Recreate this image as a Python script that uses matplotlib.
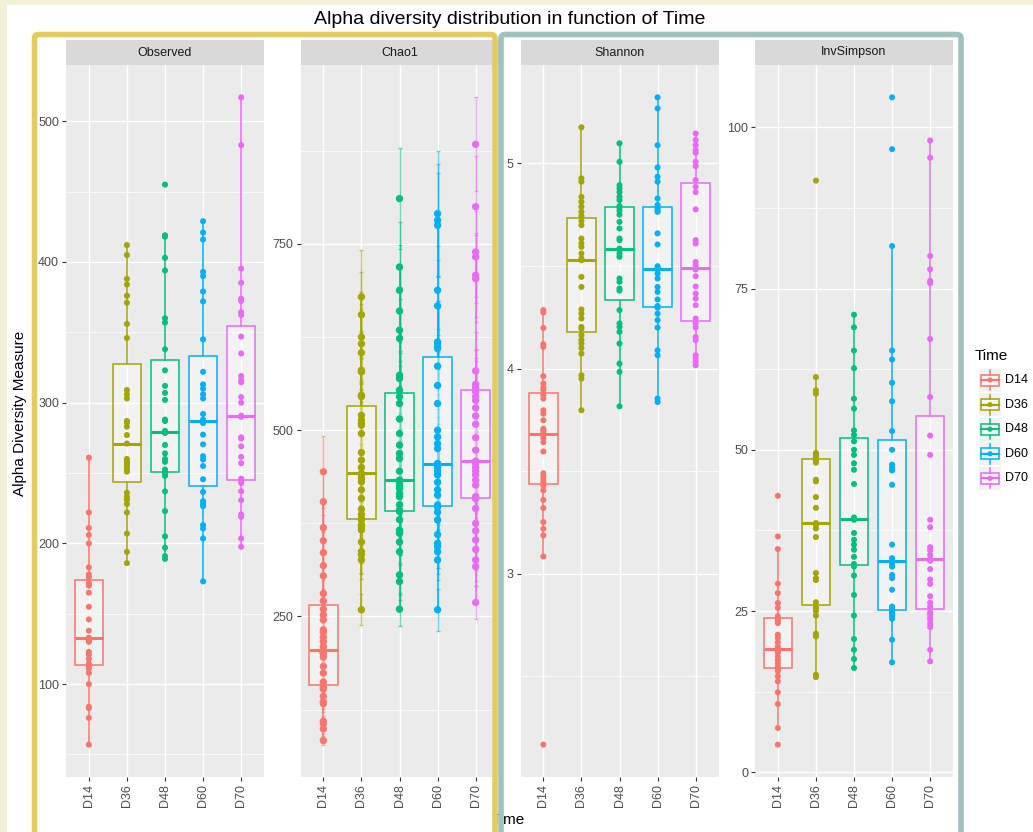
import matplotlib
matplotlib.use("Agg")
import matplotlib.pyplot as plt
import numpy as np
from matplotlib.patches import Rectangle, FancyBboxPatch, Circle
from matplotlib.ticker import MultipleLocator, AutoMinorLocator

plt.rcParams['font.family'] = ['Liberation Sans', 'DejaVu Sans']

W, H = 1033, 832

times = ["D14", "D36", "D48", "D60", "D70"]
colors = ["#F8766D", "#A3A500", "#00BF7D", "#00B0F6", "#E76BF3"]

# Observed richness per sample
observed_d14 = [57, 76, 83, 84, 100, 108, 111, 112.5, 114.7, 118, 121, 123, 130, 131, 132, 133,
                138, 146, 155, 165, 170, 171, 172, 176, 178, 183, 200, 206, 211, 222, 261]
observed_d36 = [186, 194, 207, 222, 228, 231, 233, 236, 251, 252, 254, 256, 257, 259, 260, 271,
                277, 283, 286, 287, 303, 306, 309, 346, 356, 371, 376, 384, 388, 405, 412]
observed_d48 = [189, 191, 197, 205, 223, 237, 248, 250, 251, 252.5, 258, 260, 264, 270, 278.5, 279,
                280, 287, 288, 302, 307, 312, 323, 338, 357, 360, 394, 403, 418, 419, 455]
observed_d60 = [173, 203.5, 210.6, 213, 226.5, 228, 230, 236.6, 245.6, 255, 259.6, 262, 270.4, 277.3,
                285.5, 287, 288, 292, 303, 306, 310, 313, 322, 345, 372, 379, 390, 393, 416, 421, 429]
observed_d70 = [197.6, 203.5, 218.9, 220.6, 230.7, 237.1, 243, 244.4, 246, 257, 261.5, 269, 274.5,
                275.4, 290, 290.8, 300, 304, 314.5, 316, 319, 335, 347, 362.3, 364.3, 372.3, 373.9,
                385.2, 395.3, 483, 517]

# Chao1 estimates and their standard errors
chao1_d14 = [83.5, 99.1, 106.3, 109.4, 133, 136, 142.9, 152.7, 155, 162, 174, 183, 195.5, 200, 201,
             202, 203, 204.5, 209.8, 216.5, 222.3, 228.6, 232, 245.5, 252.2, 259.8, 271, 280.8,
             304.5, 318.3, 335.7, 351.8, 369.2, 404, 444.2]
chao1_d36 = [259, 326, 333, 337, 350, 366, 370, 373, 379.5, 381.3, 387, 394, 408.5, 420, 430.8, 435,
             440, 442, 450, 459.8, 470, 495.5, 506.7, 509, 513.4, 520, 545, 547, 578.3, 580.5, 604,
             616, 625, 655, 679]
chao1_d48 = [259.8, 296.9, 305.8, 337, 350, 361.6, 366, 380, 391, 393, 400, 410.7, 415, 421.9, 425,
             430, 432, 433, 445, 462, 468.8, 480, 495.5, 515, 535.8, 545, 553.7, 569.3, 573.8, 623,
             634.2, 660, 687.8, 719.1, 810.8]
chao1_d60 = [259, 325.9, 337, 343.8, 348.2, 360, 379.5, 390, 397, 399.6, 412.9, 420, 430, 440, 445,
             450, 452, 454, 455.4, 475.4, 482, 491, 500, 535.8, 560, 585.9, 609.6, 611.8, 616.3,
             618.5, 666.8, 687.8, 775, 781.8, 790.7]
chao1_d70 = [268.8, 317, 325.9, 340, 352.7, 365, 375, 395, 408, 411, 426.3, 433, 440, 445, 450, 455,
             457.6, 458.5, 473.2, 490, 508, 519.2, 530, 540, 545, 551.4, 557.2, 561.7, 579.6, 703.5,
             708, 732.6, 739.3, 800, 883.7]
chao1_se_d14 = [5.5, 7, 8, 7.5, 11, 10, 12, 13, 11, 14, 15, 16, 14, 18, 17, 15, 19, 20, 18, 21, 19,
                24, 22, 23, 26, 25, 28, 27, 30, 32, 29, 35, 33, 40, 48]
chao1_se_d36 = [21, 26, 24, 30, 28, 33, 29, 31, 35, 30, 36, 34, 38, 33, 40, 37, 42, 39, 44, 41, 46,
                43, 48, 45, 50, 47, 52, 49, 55, 51, 58, 54, 60, 57, 63]
chao1_se_d48 = [22, 25, 27, 29, 31, 28, 33, 30, 35, 32, 36, 34, 38, 35, 39, 37, 41, 38, 42, 40, 45,
                43, 47, 44, 50, 48, 52, 49, 55, 53, 58, 56, 61, 60, 68]
chao1_se_d60 = [28, 27, 30, 29, 33, 31, 35, 32, 36, 34, 38, 35, 40, 37, 42, 39, 43, 40, 45, 42, 47,
                44, 49, 46, 52, 50, 55, 53, 57, 55, 62, 60, 70, 75, 84]
chao1_se_d70 = [22, 26, 28, 27, 30, 29, 33, 31, 35, 33, 37, 34, 38, 36, 40, 37, 41, 39, 43, 41, 45,
                43, 47, 44, 48, 46, 50, 47, 52, 58, 56, 62, 60, 68, 63]

# Shannon index
shannon_d14 = [2.167, 3.084, 3.187, 3.219, 3.252, 3.320, 3.360, 3.406, 3.43, 3.444, 3.458, 3.474,
               3.490, 3.596, 3.641, 3.661, 3.675, 3.681, 3.691, 3.701, 3.707, 3.748, 3.780, 3.797,
               3.854, 3.870, 3.896, 3.907, 3.927, 3.963, 4.106, 4.119, 4.198, 4.273, 4.285]
shannon_d36 = [3.797, 3.951, 3.967, 4.073, 4.10, 4.122, 4.14, 4.163, 4.195, 4.203, 4.244, 4.268,
               4.288, 4.398, 4.447, 4.528, 4.537, 4.561, 4.593, 4.610, 4.634, 4.699, 4.72, 4.744,
               4.764, 4.789, 4.813, 4.837, 4.911, 4.927, 5.176]
shannon_d48 = [3.816, 3.984, 4.024, 4.122, 4.179, 4.203, 4.220, 4.285, 4.38, 4.390, 4.423, 4.439,
               4.545, 4.560, 4.577, 4.585, 4.626, 4.634, 4.683, 4.715, 4.75, 4.77, 4.785, 4.792,
               4.821, 4.837, 4.86, 4.878, 4.894, 5.008, 5.098]
shannon_d60 = [3.837, 3.854, 4.065, 4.089, 4.20, 4.236, 4.268, 4.297, 4.305, 4.337, 4.374, 4.398,
               4.439, 4.463, 4.483, 4.485, 4.490, 4.499, 4.605, 4.659, 4.764, 4.772, 4.78, 4.797,
               4.829, 4.911, 4.935, 4.980, 5.089, 5.268, 5.322]
shannon_d70 = [4.016, 4.033, 4.049, 4.065, 4.138, 4.154, 4.20, 4.220, 4.244, 4.309, 4.341, 4.366,
               4.40, 4.45, 4.483, 4.491, 4.504, 4.520, 4.610, 4.626, 4.776, 4.86, 4.886, 4.919,
               4.987, 5.008, 5.052, 5.065, 5.089, 5.114, 5.146]

# Inverse Simpson index
invsimpson_d14 = [4.29, 6.87, 10.59, 12.4, 14.1, 14.88, 15.65, 16.0, 16.3, 16.84, 17.4, 17.87, 18.49,
                  18.8, 19.0, 19.11, 19.5, 20.15, 20.82, 21.33, 23.14, 23.4, 23.6, 24.2, 25.5, 26.24,
                  27.79, 29.24, 34.6, 36.57, 42.87]
invsimpson_d36 = [14.77, 15.13, 21.07, 21.5, 24.3, 25.0, 25.46, 25.6, 26.36, 29.8, 30.1, 30.9, 36.47,
                  37.8, 38.3, 38.64, 41, 42.67, 45.1, 45.35, 48.0, 48.2, 48.45, 48.7, 49.07, 49.3,
                  49.5, 58.7, 59.2, 61.27, 91.72]
invsimpson_d48 = [16.17, 17.56, 19.0, 20.66, 24.3, 27.5, 30.5, 31.9, 32.3, 33.4, 34.5, 35.3, 36.05,
                  37.1, 39.15, 39.3, 39.5, 44.7, 46.9, 47.9, 49.2, 50, 51.3, 52.3, 53.0, 56.38, 57.92,
                  62.65, 65.38, 68.98, 70.94]
invsimpson_d60 = [17.05, 20.56, 23.8, 24.2, 24.5, 24.7, 25.0, 25.1, 25.3, 25.7, 28.3, 30.1, 30.6,
                  31.9, 32.3, 32.7, 33.2, 35.3, 44.58, 46.8, 47.2, 47.7, 50, 52.9, 57.51, 60.39,
                  63.99, 65.38, 81.58, 96.6, 104.63]
invsimpson_d70 = [17.2, 19.0, 22.5, 23.0, 23.6, 24.0, 24.5, 24.8, 25.7, 26.3, 27.3, 29.2, 29.9, 31.5,
                  32.8, 33.06, 33.7, 34.4, 34.9, 38.0, 39.15, 49.2, 52.2, 58.18, 67.18, 75.82, 76.18,
                  77.98, 80.04, 95.27, 97.94]

measures = ["Observed", "Chao1", "Shannon", "InvSimpson"]
measure_data = [
    [observed_d14, observed_d36, observed_d48, observed_d60, observed_d70],
    [chao1_d14, chao1_d36, chao1_d48, chao1_d60, chao1_d70],
    [shannon_d14, shannon_d36, shannon_d48, shannon_d60, shannon_d70],
    [invsimpson_d14, invsimpson_d36, invsimpson_d48, invsimpson_d60, invsimpson_d70],
]
chao1_se = [chao1_se_d14, chao1_se_d36, chao1_se_d48, chao1_se_d60, chao1_se_d70]
major_steps = [100, 250, 1, 25]

fig = plt.figure(figsize=(W / 100, H / 100), dpi=100)
fig.patch.set_facecolor("white")


def px_rect(x, y, w, h):
    return [x / W, 1 - (y + h) / H, w / W, h / H]


PANEL_TOP, PANEL_H, PANEL_W = 65, 712, 198
panel_lefts = [66, 300.5, 520.5, 755]

for k, (name, groups) in enumerate(zip(measures, measure_data)):
    left = panel_lefts[k]
    ax = fig.add_axes(px_rect(left, PANEL_TOP, PANEL_W, PANEL_H))
    ax.set_facecolor("#ebebeb")
    for sp in ax.spines.values():
        sp.set_visible(False)
    pos = np.arange(1, len(times) + 1)
    se = chao1_se if name == "Chao1" else None
    lows, highs = [], []
    for i, vals in enumerate(groups):
        v = np.asarray(vals, float)
        if se is not None:
            s = np.asarray(se[i], float)
            ax.errorbar(np.full(len(v), pos[i]), v, yerr=s, fmt="none", ecolor=colors[i],
                        elinewidth=1.0, capsize=1.4, capthick=1.0, alpha=0.55, zorder=2)
            lows.append((v - s).min())
            highs.append((v + s).max())
        else:
            lows.append(v.min())
            highs.append(v.max())
    bp = ax.boxplot(groups, positions=pos, widths=0.75, patch_artist=True, showfliers=False,
                    showcaps=False, whis=1.5, zorder=3)
    for i in range(len(times)):
        c = colors[i]
        bp["boxes"][i].set(facecolor=(1, 1, 1, 0.4), edgecolor=c, linewidth=1.1)
        bp["medians"][i].set(color=c, linewidth=2.2)
        for wk in bp["whiskers"][2 * i:2 * i + 2]:
            wk.set(color=c, linewidth=1.1)
    for i, vals in enumerate(groups):
        ax.scatter(np.full(len(vals), pos[i]), vals, s=28 if se is not None else 19,
                   color=colors[i], edgecolors="none", zorder=4)
    lo, hi = min(lows), max(highs)
    pad = (hi - lo) * 0.05
    ax.set_ylim(lo - pad, hi + pad)
    ax.set_xlim(0.4, len(times) + 0.6)
    ax.yaxis.set_major_locator(MultipleLocator(major_steps[k]))
    ax.yaxis.set_minor_locator(AutoMinorLocator(2))
    ax.set_xticks(pos)
    ax.set_xticklabels(times, rotation=90)
    ax.set_axisbelow(True)
    ax.grid(which="major", color="white", linewidth=1.0)
    ax.yaxis.grid(which="minor", color="white", linewidth=0.5)
    ax.tick_params(axis="both", which="major", length=3, width=0.8, color="#333333",
                   labelcolor="#4d4d4d", labelsize=9, pad=2)
    ax.tick_params(axis="both", which="minor", length=0)

    sax = fig.add_axes(px_rect(left, 40, PANEL_W, 25))
    sax.set_facecolor("#d9d9d9")
    for sp in sax.spines.values():
        sp.set_visible(False)
    sax.set_xticks([])
    sax.set_yticks([])
    sax.text(0.5, 0.5, name, ha="center", va="center", fontsize=9, color="#1a1a1a",
             transform=sax.transAxes)

fig.text(509.5 / W, 1 - 20 / H, "Alpha diversity distribution in function of Time",
         ha="center", va="center", fontsize=14, color="black")
fig.text(20 / W, 1 - 413 / H, "Alpha Diversity Measure", rotation=90, ha="center",
         va="center", fontsize=11, color="black")
fig.text(508.5 / W, 1 - 820 / H, "Time", ha="center", va="center", fontsize=11,
         color="black", zorder=1)

# Overlay in pixel units: page margins, frames and legend
ov = fig.add_axes([0, 0, 1, 1], zorder=10)
ov.set_xlim(0, W)
ov.set_ylim(H, 0)
ov.axis("off")
ov.patch.set_alpha(0)

cream = "#f2f1d8"
ov.add_patch(Rectangle((0, 0), W, 5, facecolor=cream, edgecolor="none"))
ov.add_patch(Rectangle((0, 0), 7, H, facecolor=cream, edgecolor="none"))

ov.add_patch(FancyBboxPatch((34.5, 34.5), 495 - 34.5, 880, boxstyle="round,pad=0,rounding_size=4",
                            fill=False, edgecolor="#e3cc5e", linewidth=4.0))
ov.add_patch(FancyBboxPatch((501, 34.5), 961 - 501, 880, boxstyle="round,pad=0,rounding_size=4",
                            fill=False, edgecolor="#a0c1c0", linewidth=4.0))

ov.text(975, 356, "Time", ha="left", va="center", fontsize=11, color="black")
key_x0, key_w, key_h, key_gap = 979, 22, 23, 24.6
for i, (lab, c) in enumerate(zip(times, colors)):
    cy = 380 + i * key_gap
    ov.add_patch(Rectangle((key_x0, cy - key_h / 2), key_w, key_h, facecolor="#f2f2f2",
                           edgecolor="none"))
    cx = key_x0 + key_w / 2
    ov.plot([cx, cx], [cy - 10, cy - 5.5], color=c, lw=1.1)
    ov.plot([cx, cx], [cy + 5.5, cy + 10], color=c, lw=1.1)
    ov.add_patch(Rectangle((key_x0 + 2, cy - 5.5), key_w - 4, 11, facecolor=(1, 1, 1, 0.4),
                           edgecolor=c, linewidth=1.1))
    ov.plot([key_x0 + 2, key_x0 + key_w - 2], [cy, cy], color=c, lw=1.6)
    ov.add_patch(Circle((cx, cy), 2.6, facecolor=c, edgecolor="none"))
    ov.text(1005, cy, lab, ha="left", va="center", fontsize=9, color="black")

fig.savefig("out.png", dpi=100)
